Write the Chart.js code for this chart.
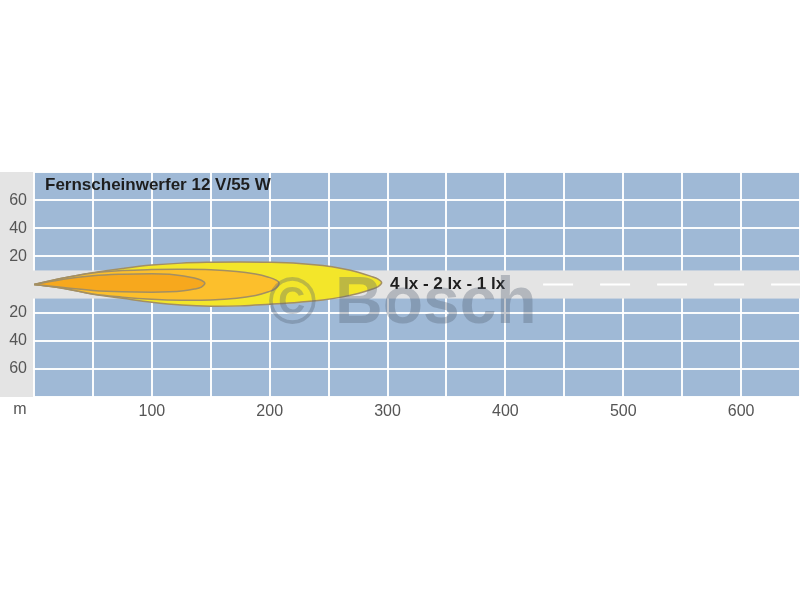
<!DOCTYPE html>
<html>
<head>
<meta charset="utf-8">
<script src="https://cdn.jsdelivr.net/npm/chart.js@4.4.0/dist/chart.umd.min.js"></script>
<style>
  html, body { margin: 0; padding: 0; background: #fff; }
</style>
</head>
<body>
<canvas id="beam" width="800" height="600"></canvas>
<script>
// --- Data (distance in m, lateral offset in m) ---
const titleText = 'Fernscheinwerfer 12 V/55 W';
const lobeLabel = '4 lx - 2 lx - 1 lx';

// 1 lx isoline
const lobe1lxX = [0, 25, 50, 75, 100, 125, 150, 175, 200, 225, 245, 262, 275, 286, 292, 295];
const lobe1lxTop = [0, 4.7, 8.4, 11.4, 13.8, 15.2, 15.8, 16, 15.8, 15, 13.5, 11.2, 8.7, 5.8, 3.8, 1.2];
const lobe1lxBottom = [0, -2.8, -6.9, -9.8, -12.6, -14.6, -15.5, -15.2, -14, -12.6, -11, -8.8, -6.4, -3.6, -1.5, 1.2];

// 2 lx isoline
const lobe2lxX = [0, 25, 50, 75, 100, 125, 150, 172, 188, 199, 205, 208];
const lobe2lxTop = [0, 4.6, 8.2, 9.9, 10.6, 10.8, 10.5, 9.3, 7.4, 5.2, 3.3, 1];
const lobe2lxBottom = [0, -2.7, -6.8, -9, -10.5, -11.2, -11, -9.8, -7.8, -5.2, -2.8, 1];

// 4 lx isoline
const lobe4lxX = [0, 25, 50, 75, 100, 115, 127, 136, 142, 145];
const lobe4lxTop = [0, 3.8, 6.2, 7.3, 7.7, 7.3, 6.1, 4.6, 3, 1];
const lobe4lxBottom = [0, -2.2, -4.2, -5.2, -5.5, -5.2, -4.4, -3.2, -1.8, 1];

const roadHalfWidth = 10;
const roadMarkX = [432, 650];

const xRange = [0, 650];
const yRange = [-80, 80];

// closed outline: along the top edge out to the tip, back along the bottom edge
function outline(xs, top, bottom) {
  const pts = xs.map((x, i) => ({ x: x, y: top[i] }));
  for (let i = xs.length - 2; i >= 0; i--) {
    pts.push({ x: xs[i], y: bottom[i] });
  }
  return pts;
}

const edgeColor = '#a38f63';
const fontFam = '"Liberation Sans", Arial, sans-serif';

// --- background, road and texts ---
const decor = {
  id: 'decor',
  beforeDraw(chart) {
    const { ctx, chartArea: a } = chart;
    ctx.save();
    ctx.fillStyle = '#e4e4e4';
    ctx.fillRect(0, a.top, a.left, a.bottom - a.top);
    ctx.fillStyle = '#9fb9d6';
    ctx.fillRect(a.left, a.top, a.right - a.left, a.bottom - a.top);
    ctx.restore();
  },
  beforeDatasetsDraw(chart) {
    const { ctx, chartArea: a, scales } = chart;
    const y1 = scales.y.getPixelForValue(roadHalfWidth);
    const y2 = scales.y.getPixelForValue(-roadHalfWidth);
    ctx.save();
    ctx.fillStyle = '#e4e4e4';
    ctx.fillRect(0, y1, a.right, y2 - y1);
    ctx.restore();
  },
  afterDatasetsDraw(chart) {
    const { ctx, scales } = chart;
    ctx.save();
    ctx.fillStyle = '#1e1e1e';
    ctx.textBaseline = 'middle';
    ctx.font = 'bold 17px ' + fontFam;
    ctx.fillText(titleText, 45, 185);
    ctx.fillText(lobeLabel, scales.x.getPixelForValue(302), scales.y.getPixelForValue(0));
    // unit under the y labels
    ctx.fillStyle = '#555';
    ctx.font = '16px ' + fontFam;
    ctx.textAlign = 'center';
    ctx.fillText('m', 20, 410);
    // watermark
    ctx.textAlign = 'left';
    ctx.textBaseline = 'alphabetic';
    ctx.font = 'bold 66px ' + fontFam;
    ctx.fillStyle = 'rgba(85, 98, 115, 0.34)';
    ctx.fillText('\u00A9 Bosch', 268, 323);
    ctx.restore();
  }
};

const lobeStyle = {
  showLine: true,
  fill: 'shape',
  borderColor: edgeColor,
  borderWidth: 1.5,
  tension: 0.4,
  pointRadius: 0
};

new Chart(document.getElementById('beam'), {
  type: 'scatter',
  data: {
    datasets: [
      Object.assign({ label: '4 lx', data: outline(lobe4lxX, lobe4lxTop, lobe4lxBottom),
        backgroundColor: '#f7a81d', order: 1 }, lobeStyle),
      Object.assign({ label: '2 lx', data: outline(lobe2lxX, lobe2lxTop, lobe2lxBottom),
        backgroundColor: '#fcbf2c', order: 2 }, lobeStyle),
      Object.assign({ label: '1 lx', data: outline(lobe1lxX, lobe1lxTop, lobe1lxBottom),
        backgroundColor: '#f3e62a', order: 3 }, lobeStyle),
      {
        label: 'road',
        data: roadMarkX.map(x => ({ x: x, y: 0 })),
        showLine: true,
        fill: false,
        borderColor: '#ffffff',
        borderWidth: 2,
        borderDash: [30, 27],
        pointRadius: 0,
        order: 4
      }
    ]
  },
  options: {
    responsive: false,
    animation: false,
    layout: { padding: { top: 172, bottom: 175, left: 0, right: 0 } },
    plugins: {
      legend: { display: false },
      tooltip: { enabled: false }
    },
    scales: {
      x: {
        type: 'linear',
        min: xRange[0],
        max: xRange[1],
        afterFit: s => { s.height = 28; s.paddingLeft = 0; s.paddingRight = 0; },
        border: { display: false },
        grid: { color: 'rgba(255,255,255,0.95)', lineWidth: 2, drawTicks: false },
        ticks: {
          stepSize: 50,
          padding: 5,
          color: '#555',
          font: { family: fontFam, size: 16 },
          maxRotation: 0,
          autoSkip: false,
          callback: v => (v > 0 && v % 100 === 0 ? v : '')
        }
      },
      y: {
        min: yRange[0],
        max: yRange[1],
        afterFit: s => { s.width = 34; s.paddingTop = 0; s.paddingBottom = 0; },
        border: { display: false },
        grid: { color: 'rgba(255,255,255,0.95)', lineWidth: 2, drawTicks: false },
        ticks: {
          stepSize: 20,
          padding: 7,
          color: '#555',
          font: { family: fontFam, size: 16 },
          callback: v => (Math.abs(v) > 60 ? '' : Math.abs(v))
        }
      }
    }
  },
  plugins: [decor]
});
</script>
</body>
</html>
